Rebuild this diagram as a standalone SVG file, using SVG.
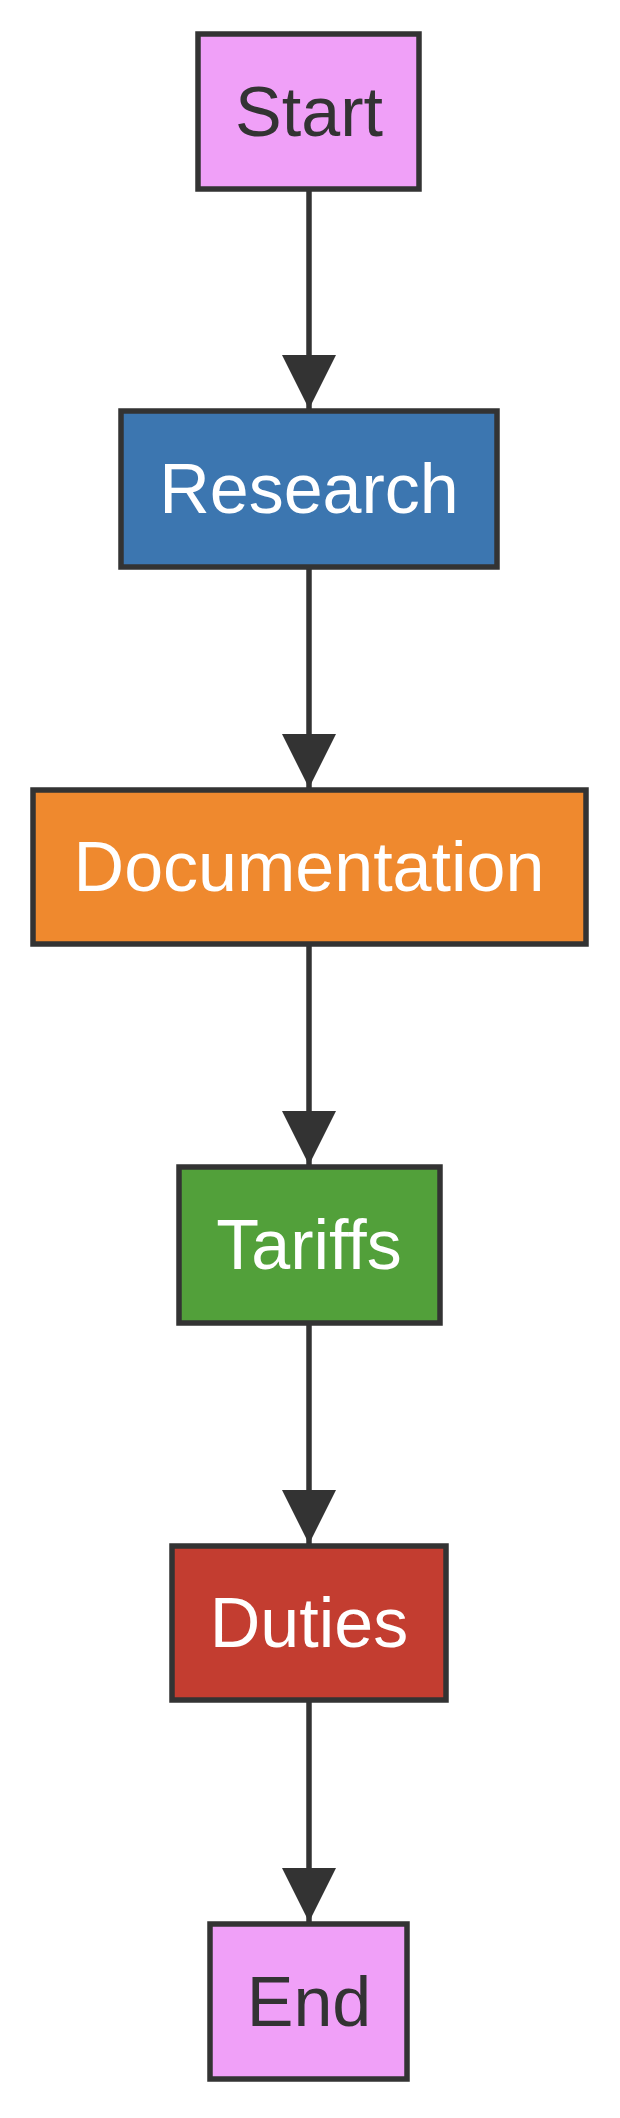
<svg xmlns="http://www.w3.org/2000/svg" width="620" height="2118" viewBox="0 0 620 2118">
<style>
.n{stroke:#333;stroke-width:5.5}
.t{font-family:"Liberation Sans",Arial,sans-serif;font-size:70px;text-anchor:middle;dominant-baseline:central}
.e{stroke:#333;stroke-width:5.5;fill:none}
</style>
<defs><marker id="a" markerUnits="userSpaceOnUse" markerWidth="54" markerHeight="54" refX="54" refY="27" orient="auto"><path d="M0,0 L54,27 L0,54 Z" fill="#333"/></marker></defs>
<rect width="620" height="2118" fill="#fff"/>
<g id="edges">
<path class="e" d="M309,189 V409" marker-end="url(#a)"/>
<path class="e" d="M309,567 V788" marker-end="url(#a)"/>
<path class="e" d="M309,944 V1165" marker-end="url(#a)"/>
<path class="e" d="M309,1323 V1544" marker-end="url(#a)"/>
<path class="e" d="M309,1700 V1922" marker-end="url(#a)"/>
</g>
<g id="start"><rect class="n" x="198" y="34" width="221" height="155" fill="#f0a0f8"/><text class="t" x="309" y="112" fill="#333">Start</text></g>
<g id="research"><rect class="n" x="121" y="411" width="376" height="156" fill="#3c76b0"/><text class="t" x="309" y="489" fill="#fff">Research</text></g>
<g id="documentation"><rect class="n" x="33" y="790" width="553" height="154" fill="#ef892e"/><text class="t" x="309" y="867" fill="#fff">Documentation</text></g>
<g id="tariffs"><rect class="n" x="179" y="1167" width="261" height="156" fill="#52a03a"/><text class="t" x="309" y="1245" fill="#fff">Tariffs</text></g>
<g id="duties"><rect class="n" x="172" y="1546" width="274" height="154" fill="#c33d30"/><text class="t" x="309" y="1623" fill="#fff">Duties</text></g>
<g id="end"><rect class="n" x="210" y="1924" width="197" height="155" fill="#f0a0f8"/><text class="t" x="309" y="2002" fill="#333">End</text></g>
</svg>
